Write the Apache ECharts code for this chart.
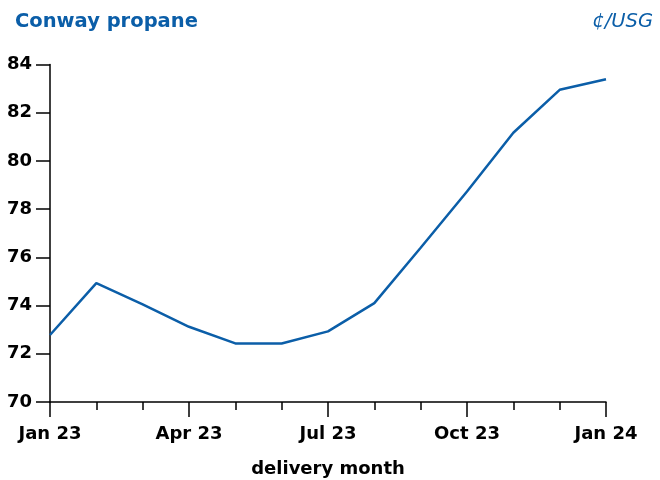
<!DOCTYPE html>
<html>
<head>
<meta charset="utf-8">
<script src="https://cdn.jsdelivr.net/npm/echarts@6/dist/echarts.min.js"></script>
<style>html,body{margin:0;padding:0;background:#fff}#c{width:660px;height:480px}</style>
</head>
<body>
<div id="c"></div>
<script>
const months = ['Jan 23','Feb 23','Mar 23','Apr 23','May 23','Jun 23','Jul 23','Aug 23','Sep 23','Oct 23','Nov 23','Dec 23','Jan 24'];
const prices = [72.78, 74.93, 74.05, 73.12, 72.43, 72.43, 72.93, 74.1, 76.4, 78.73, 81.17, 82.95, 83.39];
const yTicks = {min: 70, max: 84, step: 2};
const titleText = 'Conway propane';
const unitText = '¢/USG';
const xName = 'delivery month';

const blue = '#0b5ea8';
const font = 'DejaVu Sans';
const chart = echarts.init(document.getElementById('c'), null, {renderer: 'canvas'});
chart.setOption({
  animation: false,
  backgroundColor: '#fff',
  title: [
    {text: titleText, left: 10, top: 7, textStyle: {fontFamily: font, fontWeight: 'bold', fontSize: 19.5, color: blue}},
    {text: unitText, right: 2, top: 7, textStyle: {fontFamily: font, fontStyle: 'italic', fontWeight: 'normal', fontSize: 19.5, color: blue}}
  ],
  grid: {left: 50, right: 54, top: 64.5, bottom: 78, containLabel: false, outerBoundsMode: 'none'},
  xAxis: [
    {
      type: 'category', data: months, boundaryGap: false,
      axisLine: {show: true, lineStyle: {color: '#000', width: 1.5}},
      axisTick: {show: true, interval: 0, length: 8, lineStyle: {color: '#000', width: 1.5}},
      axisLabel: {show: false},
      splitLine: {show: false}
    },
    {
      type: 'category', data: months, boundaryGap: false, position: 'bottom',
      axisLine: {show: false},
      axisTick: {show: true, interval: 2, length: 15, lineStyle: {color: '#000', width: 1.5}},
      axisLabel: {show: true, interval: 2, margin: 23, fontFamily: font, fontWeight: 'bold', fontSize: 18, color: '#000'},
      name: xName, nameLocation: 'middle', nameGap: 58,
      nameTextStyle: {fontFamily: font, fontWeight: 'bold', fontSize: 18, color: '#000'},
      splitLine: {show: false}
    }
  ],
  yAxis: {
    type: 'value', min: yTicks.min, max: yTicks.max, interval: yTicks.step,
    axisLine: {show: true, lineStyle: {color: '#000', width: 1.5}},
    axisTick: {show: true, length: 14, lineStyle: {color: '#000', width: 1.5}},
    axisLabel: {margin: 18, fontFamily: font, fontWeight: 'bold', fontSize: 18, color: '#000'},
    splitLine: {show: false}
  },
  series: [{
    type: 'line', data: prices, xAxisIndex: 0, symbol: 'none',
    lineStyle: {color: blue, width: 2.5}
  }]
});
</script>
</body>
</html>
